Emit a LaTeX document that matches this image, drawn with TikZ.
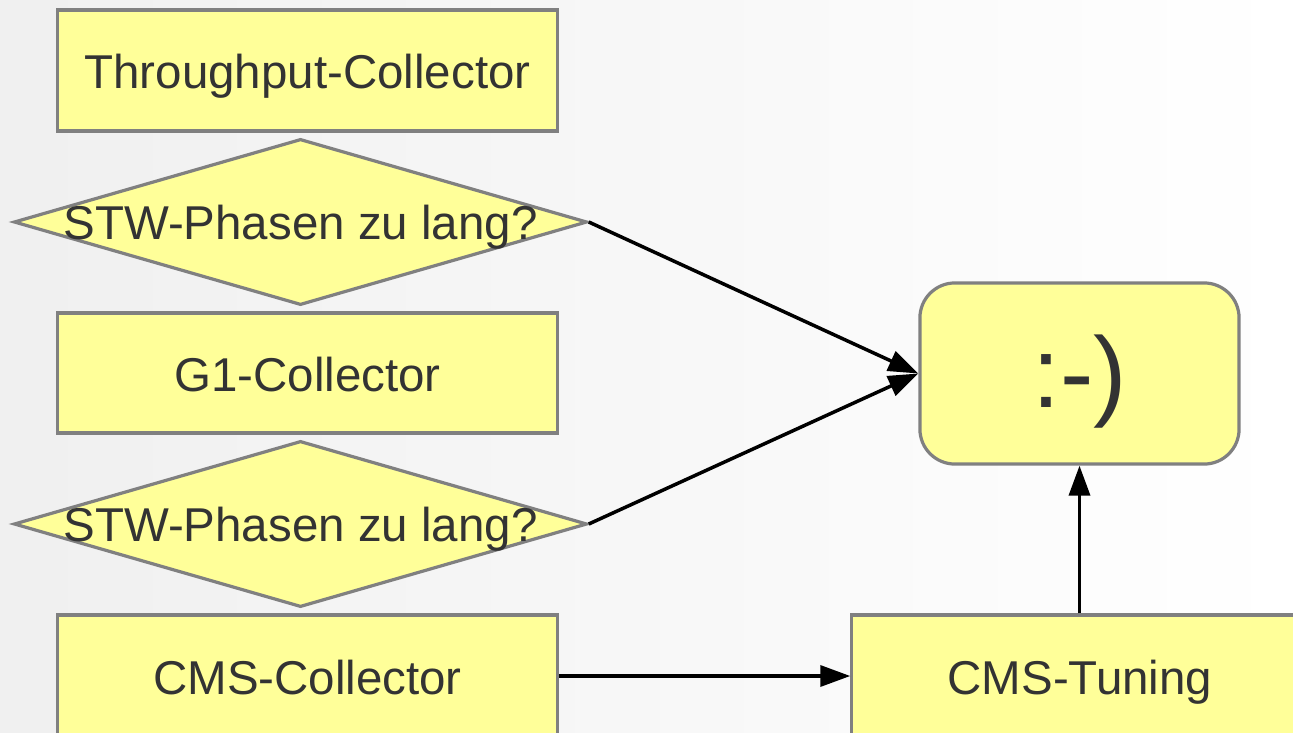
\documentclass[tikz,border=0pt]{standalone}
\usepackage{fontspec}
\setmainfont{Liberation Sans}
\usetikzlibrary{shapes.geometric,arrows.meta}
\definecolor{boxfill}{HTML}{FFFF99}
\definecolor{boxline}{HTML}{808080}
\definecolor{txt}{HTML}{333333}
\tikzset{
  px/.style={x=0.01cm,y=-0.01cm},
  flowbox/.style={rectangle,draw=boxline,fill=boxfill,line width=0.032cm,inner sep=0pt,
    text=txt,font=\fontsize{13.5}{16}\selectfont,text height=0.36cm,text depth=0pt},
  decision/.style={diamond,draw=boxline,fill=boxfill,line width=0.032cm,inner sep=0pt,
    minimum width=5.73cm,minimum height=1.66cm,text=txt,font=\fontsize{13.5}{16}\selectfont,
    text height=0.34cm,text depth=0pt},
  goal/.style={rectangle,rounded corners=0.35cm,draw=boxline,fill=boxfill,line width=0.032cm,
    inner sep=0pt,minimum width=3.19cm,minimum height=1.81cm,text=txt,
    font=\fontsize{28.5}{32}\selectfont,text height=0.67cm,text depth=0pt},
  conn/.style={line width=0.035cm,-{Triangle[length=0.3cm,width=0.21cm]}}
}
\begin{document}
\begin{tikzpicture}[px]
\useasboundingbox (0,0) rectangle (1293,733);
\clip (0,0) rectangle (1293,733);
\shade[left color=black!6,right color=white] (0,0) rectangle (1293,733);
\node[flowbox,minimum width=4.99cm,minimum height=1.21cm] (tp) at (307.5,70.5) {Throughput-Collector};
\node[decision] (d1) at (300.5,222) {\makebox[0pt]{STW-Phasen zu lang?}};
\node[flowbox,minimum width=4.99cm,minimum height=1.20cm] (g1) at (307.5,373) {G1-Collector};
\node[decision] (d2) at (300.5,524) {\makebox[0pt]{STW-Phasen zu lang?}};
\node[flowbox,minimum width=4.99cm,minimum height=1.22cm] (cms) at (307.5,676) {CMS-Collector};
\node[flowbox,minimum width=4.56cm,minimum height=1.22cm] (tune) at (1080,676) {CMS-Tuning};
\node[goal] (ok) at (1079.5,373.5) {:-)};
\draw[conn] (d1.east) -- (ok.west);
\draw[conn] (d2.east) -- (ok.west);
\draw[conn] (cms.east) -- (tune.west);
\draw[conn] (tune.north -| ok.south) -- (ok.south);
\end{tikzpicture}
\end{document}
